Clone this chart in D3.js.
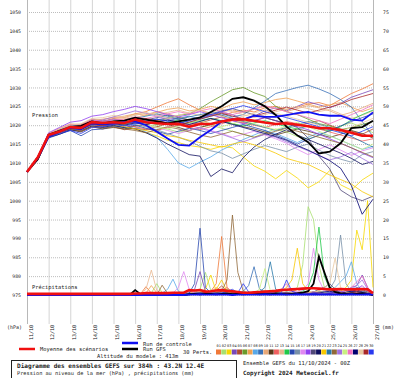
<!DOCTYPE html>
<html>
<head>
<meta charset="utf-8">
<script src="https://cdn.jsdelivr.net/npm/d3@7"></script>
<style>
  body { margin: 0; background: #fff; }
  text { font-family: "DejaVu Sans Mono", monospace; fill: #222; }
</style>
</head>
<body>
<div id="chart"></div>
<script>
// dates on the bottom axis (one per day, 00Z)
const dateLabels = ["11/10","12/10","13/10","14/10","15/10","16/10","17/10","18/10","19/10",
  "20/10","21/10","22/10","23/10","24/10","25/10","26/10","27/10"];
const pressureTicks = [975,980,985,990,995,1000,1005,1010,1015,1020,1025,1030,1035,1040,1045,1050];
const precipTicks = [0,5,10,15,20,25,30,35,40,45,50,55,60,65,70,75];

// member colours 01..30
const memberColors = ["#f07838","#a8e070","#f8d800","#7848b8","#b04a30","#6a9a2a","#f0a050","#58a8e8",
  "#3870b8","#e8a878","#5a3818","#f06060","#e8b890","#20c848","#2848b0","#7890a8","#e088f0","#9040f0",
  "#504878","#101060","#f8c800","#2878a8","#906838","#a070e0","#c8f080","#f070c0","#000070","#e8c8a0",
  "#a82828","#2838f0"];

// sea level pressure (hPa), every 12h from 0 to 384h
const meanPressure = [1007.6,1011.5,1017.4,1018.3,1019.5,1019.3,1020.8,1020.6,1020.8,1020.6,1021.5,1020.8,1020.5,1020.3,1020.4,1019.6,1020.3,1020.3,1021.0,1021.5,1021.6,1021.2,1020.7,1020.3,1020.5,1020.1,1019.7,1019.2,1019.2,1018.7,1018.0,1017.2,1017.2];
const controlPressure = [1007.6,1011.3,1017.0,1018.3,1019.3,1019.0,1020.5,1020.3,1020.5,1020.8,1021.0,1020.0,1018.3,1016.5,1014.8,1014.6,1016.8,1018.7,1021.0,1021.6,1021.5,1022.5,1022.2,1022.2,1022.7,1023.2,1023.5,1022.8,1022.5,1022.5,1021.5,1021.2,1023.4];
const gfsPressure = [1007.6,1011.0,1017.5,1018.5,1019.5,1019.8,1021.0,1020.5,1021.0,1021.2,1022.0,1021.5,1021.0,1020.5,1021.0,1021.5,1022.0,1023.5,1025.0,1027.0,1027.4,1026.5,1025.0,1022.7,1019.6,1017.3,1015.5,1012.5,1013.0,1015.2,1019.2,1019.5,1021.2];
const memberPressure = [
  [1007.6,1011.8,1017.8,1018.9,1020.0,1019.6,1021.4,1021.0,1021.8,1022.0,1023.0,1023.6,1024.8,1026.0,1027.0,1025.4,1024.0,1023.0,1022.5,1023.4,1024.0,1023.5,1024.6,1025.0,1024.2,1024.8,1025.6,1026.0,1025.2,1026.8,1028.4,1029.6,1031.0],
  [1007.6,1011.2,1017.0,1018.6,1019.2,1018.8,1020.4,1020.0,1020.6,1021.2,1021.0,1020.2,1019.8,1019.0,1018.2,1018.6,1019.4,1020.0,1019.2,1018.4,1017.6,1016.8,1018.0,1019.0,1018.2,1017.0,1016.4,1017.2,1018.6,1019.8,1020.6,1019.4,1018.0],
  [1007.6,1011.6,1017.6,1019.0,1020.2,1019.8,1020.6,1020.2,1020.0,1019.4,1019.0,1018.0,1017.2,1016.0,1015.4,1014.6,1014.2,1013.6,1014.4,1014.0,1011.6,1009.2,1007.8,1005.8,1008.0,1006.0,1003.4,1005.0,1008.0,1004.2,1002.8,1005.5,1007.3],
  [1007.6,1011.4,1017.2,1018.0,1019.8,1020.0,1021.6,1021.2,1021.0,1020.4,1021.2,1020.6,1021.4,1022.0,1021.6,1020.8,1021.8,1022.6,1023.4,1022.8,1021.6,1022.4,1023.8,1024.6,1023.8,1025.0,1026.2,1025.4,1024.6,1025.8,1027.4,1028.4,1029.4],
  [1007.6,1011.0,1016.8,1018.2,1019.0,1018.6,1019.8,1019.4,1019.6,1018.8,1019.2,1018.8,1019.6,1020.4,1021.0,1020.2,1020.6,1021.4,1022.2,1021.6,1020.8,1021.2,1022.0,1021.2,1020.4,1019.8,1020.6,1021.2,1020.0,1019.0,1018.4,1017.6,1019.0],
  [1007.6,1011.4,1017.4,1018.4,1019.6,1019.4,1020.6,1020.4,1020.6,1020.2,1021.0,1020.6,1021.0,1021.8,1022.6,1023.0,1024.4,1026.2,1027.8,1029.4,1030.0,1028.6,1027.6,1025.0,1023.6,1022.8,1021.6,1020.4,1019.8,1018.8,1019.4,1020.2,1021.0],
  [1007.6,1011.6,1017.6,1018.8,1019.8,1020.2,1021.2,1021.6,1022.0,1022.4,1023.0,1022.6,1023.4,1024.2,1024.6,1023.8,1024.2,1025.0,1024.4,1025.6,1026.2,1025.4,1026.0,1026.8,1027.2,1026.4,1025.6,1024.8,1025.4,1026.0,1024.8,1023.6,1024.6],
  [1007.6,1011.2,1016.8,1018.0,1019.2,1019.0,1020.0,1019.6,1019.8,1019.2,1019.6,1018.2,1016.8,1013.6,1010.0,1008.6,1010.2,1011.6,1013.4,1014.8,1016.2,1017.4,1018.6,1017.8,1016.6,1015.4,1016.8,1018.0,1017.2,1016.0,1014.8,1013.6,1014.4],
  [1007.6,1011.4,1017.2,1018.6,1019.4,1019.0,1020.6,1020.2,1020.8,1020.4,1021.4,1021.0,1021.6,1021.2,1021.8,1022.4,1021.6,1022.4,1023.0,1022.2,1022.8,1024.6,1026.4,1028.4,1029.2,1030.0,1030.6,1029.6,1028.4,1026.8,1024.8,1021.0,1017.0],
  [1007.6,1011.8,1017.6,1018.6,1019.6,1019.6,1020.8,1020.8,1021.2,1021.6,1022.0,1022.8,1023.6,1023.0,1022.2,1021.4,1022.0,1022.8,1023.6,1024.0,1023.4,1024.2,1025.0,1024.4,1023.6,1024.4,1025.2,1024.6,1023.8,1022.6,1023.4,1024.6,1025.8],
  [1007.6,1011.0,1017.0,1018.0,1018.8,1018.2,1019.6,1019.0,1019.4,1019.0,1019.8,1020.2,1020.8,1020.2,1019.4,1018.6,1019.4,1020.2,1021.0,1020.4,1019.6,1019.0,1018.2,1017.4,1018.2,1019.0,1018.4,1017.6,1016.8,1017.6,1018.6,1017.8,1016.6],
  [1007.6,1011.6,1017.4,1018.2,1019.4,1019.2,1020.2,1019.8,1020.4,1020.0,1019.6,1019.0,1018.6,1019.4,1020.0,1019.4,1018.8,1019.6,1020.4,1021.2,1020.6,1020.0,1019.4,1020.2,1021.0,1020.4,1019.8,1019.0,1018.2,1017.4,1016.6,1015.8,1016.4],
  [1007.6,1011.4,1017.8,1019.2,1020.4,1020.2,1021.6,1021.4,1022.2,1021.8,1022.6,1023.2,1022.8,1023.4,1024.0,1023.2,1022.6,1023.4,1024.2,1023.6,1022.8,1022.0,1022.8,1023.6,1024.2,1025.0,1024.4,1023.6,1024.2,1023.0,1021.8,1022.6,1023.8],
  [1007.6,1011.2,1017.2,1018.4,1019.6,1019.2,1020.4,1020.2,1020.6,1020.8,1021.2,1020.8,1020.2,1020.8,1021.4,1020.6,1021.2,1021.8,1021.2,1020.4,1019.8,1020.6,1021.2,1020.4,1019.6,1019.0,1019.8,1019.2,1018.4,1019.6,1021.4,1022.8,1024.0],
  [1007.6,1011.0,1016.6,1017.6,1018.6,1017.2,1018.8,1019.0,1019.8,1019.4,1020.0,1019.2,1018.4,1017.6,1018.4,1019.2,1018.6,1017.8,1018.6,1019.4,1020.2,1019.4,1018.6,1017.4,1016.2,1015.0,1016.2,1017.4,1018.6,1019.8,1021.0,1022.0,1023.0],
  [1007.6,1011.4,1017.0,1018.2,1019.0,1018.8,1020.2,1020.6,1021.0,1020.6,1020.2,1019.6,1018.8,1017.8,1016.8,1015.8,1014.4,1013.2,1012.6,1011.2,1012.4,1013.6,1014.6,1013.8,1013.0,1014.2,1015.0,1013.4,1012.0,1011.0,1010.2,1012.2,1013.0],
  [1007.6,1011.6,1017.4,1018.6,1019.8,1019.6,1021.0,1020.8,1021.4,1021.0,1020.6,1020.0,1019.4,1018.6,1017.8,1018.6,1019.4,1018.6,1017.8,1016.8,1017.6,1018.4,1017.4,1016.4,1015.2,1013.6,1012.2,1013.6,1014.8,1013.4,1012.0,1013.2,1014.0],
  [1007.6,1011.8,1018.0,1019.4,1020.8,1021.2,1022.4,1022.8,1023.6,1024.2,1025.0,1024.4,1023.6,1022.8,1022.2,1022.8,1023.6,1022.8,1022.0,1021.2,1020.4,1021.2,1022.0,1021.2,1020.4,1019.6,1018.8,1017.6,1016.4,1015.2,1014.0,1012.6,1011.4],
  [1007.6,1011.2,1017.0,1018.2,1019.2,1018.8,1020.2,1020.0,1020.6,1020.2,1020.8,1021.4,1022.0,1022.6,1022.0,1021.4,1022.2,1023.0,1023.8,1024.4,1023.6,1022.8,1022.0,1021.2,1020.4,1019.4,1016.6,1011.8,1008.4,1002.8,1001.0,1000.0,1001.2],
  [1007.6,1011.0,1016.8,1017.6,1018.8,1018.4,1019.8,1019.4,1020.0,1019.4,1019.0,1018.0,1016.6,1015.0,1013.6,1012.2,1011.8,1006.4,1008.4,1007.4,1011.4,1014.2,1016.2,1017.6,1018.8,1017.4,1016.2,1015.0,1013.8,1012.6,1011.2,1009.6,1010.4],
  [1007.6,1011.4,1017.2,1018.4,1019.4,1019.6,1020.8,1020.4,1020.2,1019.6,1019.0,1018.6,1018.0,1017.2,1016.8,1016.0,1015.4,1014.8,1014.2,1015.0,1015.6,1014.8,1013.8,1012.6,1011.2,1010.4,1009.6,1008.2,1006.8,1005.6,1004.4,1002.4,1001.0],
  [1007.6,1011.6,1017.6,1018.8,1020.0,1019.8,1021.2,1021.0,1021.6,1021.2,1021.8,1022.4,1023.0,1022.4,1021.6,1022.2,1022.8,1023.4,1022.6,1021.8,1021.0,1020.2,1019.4,1018.6,1019.4,1020.2,1021.0,1020.2,1019.4,1018.2,1017.0,1015.6,1014.2],
  [1007.6,1011.2,1017.0,1018.0,1019.0,1018.4,1019.6,1019.2,1019.6,1019.0,1018.6,1018.0,1018.8,1019.6,1019.0,1018.2,1017.4,1016.8,1017.6,1018.4,1017.6,1016.8,1017.6,1018.4,1019.2,1018.4,1017.6,1016.8,1016.0,1015.2,1014.0,1012.8,1011.6],
  [1007.6,1011.6,1017.6,1018.6,1019.6,1019.6,1021.0,1021.4,1022.2,1023.0,1023.8,1023.2,1022.4,1021.6,1020.8,1020.0,1019.2,1018.4,1017.6,1016.6,1015.6,1016.6,1017.6,1016.8,1015.6,1014.4,1013.2,1012.0,1010.8,1011.6,1012.8,1011.2,1009.6],
  [1007.6,1011.4,1017.4,1018.4,1019.4,1019.2,1020.4,1020.0,1020.4,1020.0,1020.6,1020.0,1019.4,1019.0,1019.8,1020.6,1021.2,1020.4,1019.6,1020.4,1021.2,1020.4,1019.6,1018.8,1019.8,1020.8,1019.6,1018.4,1017.2,1016.0,1014.8,1013.6,1015.0],
  [1007.6,1011.8,1017.8,1019.0,1020.2,1020.0,1021.4,1021.0,1021.6,1021.4,1022.2,1021.8,1022.4,1023.0,1023.6,1023.0,1023.8,1024.4,1023.6,1022.8,1023.6,1024.4,1025.2,1024.4,1023.6,1022.8,1022.0,1021.2,1020.4,1021.6,1022.8,1024.0,1025.4],
  [1007.6,1011.2,1017.2,1018.2,1019.4,1019.0,1020.4,1020.0,1020.4,1020.0,1020.6,1020.2,1020.8,1021.4,1020.8,1020.2,1021.0,1021.8,1021.0,1020.2,1019.4,1018.6,1017.8,1017.0,1016.0,1014.6,1013.4,1012.0,1010.6,1008.6,1004.0,996.4,1000.4],
  [1007.6,1011.6,1017.6,1019.0,1020.0,1020.4,1021.8,1022.0,1022.6,1022.2,1022.8,1023.4,1022.6,1021.8,1022.6,1023.4,1024.0,1023.2,1022.4,1021.6,1022.4,1023.2,1024.0,1023.2,1022.4,1021.6,1020.8,1020.0,1019.2,1018.4,1019.4,1020.6,1021.8],
  [1007.6,1011.4,1017.2,1018.4,1019.4,1019.0,1020.2,1019.8,1020.2,1020.6,1021.2,1021.8,1021.2,1020.6,1020.0,1020.8,1021.6,1022.4,1023.2,1022.4,1021.6,1022.4,1023.2,1024.0,1024.8,1024.0,1023.2,1024.0,1024.8,1025.6,1026.8,1027.6,1028.4],
  [1007.6,1011.0,1016.8,1017.8,1018.6,1017.8,1019.4,1019.6,1020.2,1019.8,1020.4,1021.0,1021.6,1021.0,1020.4,1021.2,1022.0,1022.8,1023.6,1024.4,1025.2,1024.4,1023.6,1022.8,1022.0,1021.2,1020.4,1019.6,1018.8,1018.0,1017.2,1018.4,1019.6]
];

// precipitation (mm), every 6h from 0 to 384h
const meanPrecip = [.3,.3,.3,.3,.3,.3,.3,.3,.3,.3,.3,.3,.3,.3,.3,.3,.3,.3,.3,.3,
  .4,.4,.5,.5,.5,.5,.5,.6,.6,.6,1.3,1.2,1.3,.9,1,1.2,1.3,1.1,1,.8,
  .6,.6,.7,.8,.9,1,1.1,1.3,1.4,1.5,1.6,1.7,1.8,1.8,1.7,1.6,1.5,1.5,1.6,1.5,
  1.5,1.5,1.6,1.5,.5];
const controlPrecip = [0,0,0,0,0,0,0,0,0,0,0,0,0,0,0,0,0,0,0,0,
  0,0,0,0,0,0,0,0,0,0,.1,.1,.2,.1,.1,.2,.1,.1,0,.1,
  .1,.2,.1,.1,.2,.1,.1,.2,.1,.1,.2,.1,.1,.2,.1,.1,.2,.1,.1,.1,
  .2,.1,.1,.2,.1];
const gfsPrecip = [0,0,0,0,0,0,0,0,0,0,0,0,0,0,0,0,0,0,0,0,
  1.3,.2,0,0,0,0,0,0,0,0,.2,.3,.2,.4,.3,.2,.3,.4,.2,.3,
  .2,.3,.4,.2,.3,.2,.4,.3,.2,.3,.4,.6,1,3,10.2,6,2,.8,.4,.3,
  .4,.3,.5,.3,0];
const memberPrecip = [
  [0,0,0,0,0,0,0,0,0,0,0,0,0,0,0,0,0,0,0,0, 0,.3,2.2,.5,0,0,.2,0,0,.3, .5,.8,.4,.6,1,3,15.5,2,.5,.3, .2,.4,.6,.3,.5,1,.4,.2,.6,.8, 1.5,.6,.4,.8,1.2,.5,.3,.6,.9,.4, 1,.6,.4,.8,0],
  [0,0,0,0,0,0,0,0,0,0,0,0,0,0,0,0,0,0,0,0, 0,0,0,.5,3,.6,0,0,.2,.3, .4,.6,1.5,6,1.2,.4,.3,.6,.4,.2, .3,.5,.4,.6,1.2,.5,.3,.4,.6,.9, 2,8,23.4,20,8,2,.8,.5,.4,.6, .5,.8,.6,.4,0],
  [0,0,0,0,0,0,0,0,0,0,0,0,0,0,0,0,0,0,0,0, 0,0,0,0,0,.3,0,0,0,.2, .3,.5,.8,1.5,5.3,1,.4,.2,.3,.4, .5,.3,.2,.4,.6,.3,.2,.5,.8,.4, .6,.4,.3,.6,.8,.5,.7,.4,1,2, 4,17.2,12,25,2],
  [0,0,0,0,0,0,0,0,0,0,0,0,0,0,0,0,0,0,0,0, 0,0,0,0,.2,0,0,.3,0,.4, .6,1.5,6.2,1,.4,.3,.5,.2,.3,.6, .4,.3,.5,.2,.4,.6,.3,.2,.4,.5, .3,.6,.4,.8,.5,.3,.6,1,.8,1.2, 2,2.5,5.3,2,.5],
  [0,0,0,0,0,0,0,0,0,0,0,0,0,0,0,0,0,0,0,0, 0,0,.2,0,0,.3,0,0,0,0, .3,.2,.5,.4,.8,1.2,2.4,1,.3,.2, .5,.3,.2,.4,.3,.2,.6,.4,.3,.5, .4,.3,.6,.8,.5,.3,.4,.6,.5,.3, .6,.8,1.2,.6,0],
  [0,0,0,0,0,0,0,0,0,0,0,0,0,0,0,0,0,0,0,0, 0,0,0,0,0,0,0,0,0,0, .2,.4,.3,.5,.8,.4,.6,1.6,.5,.3, .2,.3,.5,.4,.6,.3,.4,.2,.5,.3, .4,.6,.8,.5,.3,.6,.4,.5,.3,.4, .5,.3,.6,.4,0],
  [0,0,0,0,0,0,0,0,0,0,0,0,0,0,0,0,0,0,0,0, 0,0,.5,2.5,.6,0,0,0,0,0, .3,.5,.4,.3,.6,2,1,.5,.4,.3, .3,.5,.4,.2,.3,.5,.7,.4,.3,.6, .8,.5,.4,.6,.3,.5,.8,1.2,.6,.4, .6,.4,.8,.5,0],
  [0,0,0,0,0,0,0,0,0,0,0,0,0,0,0,0,0,0,0,0, 0,0,0,0,0,.5,1.5,4.2,1,.2, .3,.4,.6,.5,.3,.6,.8,.4,.5,.3, .6,.8,.5,.4,.3,.6,.4,.5,.3,.4, .5,.3,.6,.4,.5,.8,1.2,2,3.5,5, 8.8,3,1,.5,0],
  [0,0,0,0,0,0,0,0,0,0,0,0,0,0,0,0,0,0,0,0, 0,0,0,0,0,0,0,0,0,0, .2,.4,.6,.3,.5,.4,.6,.3,.4,.5, 1,2.5,7.5,1.6,.8,.5,.6,.4,.8,.5, .4,.6,.3,.5,.8,.4,.3,.6,.5,.7, .4,.6,.3,.5,0],
  [0,0,0,0,0,0,0,0,0,0,0,0,0,0,0,0,0,0,0,0, 0,0,0,0,0,0,0,.3,0,0, .2,.3,.5,.4,.3,.8,1.5,.6,.3,.2, .3,.2,.4,.3,.5,.4,.2,.3,.6,.4, .5,.4,.6,.3,.5,.7,.9,.5,.3,.4, .6,.5,.4,.3,0],
  [0,0,0,0,0,0,0,0,0,0,0,0,0,0,0,0,0,0,0,0, 0,0,0,0,0,0,0,0,0,0, .3,.2,.4,.3,.5,.3,.4,.2,.3,.5, .4,.3,.2,.5,.3,.4,.6,.3,.2,.4, .3,.5,.4,.6,.3,.4,.5,.3,.6,.4, .5,.3,.4,.2,0],
  [0,0,0,0,0,0,0,0,0,0,0,0,0,0,0,0,0,0,0,0, 0,0,0,0,0,0,0,0,0,0, .3,.5,.4,.6,.3,.5,1,2,.6,.3, .2,.4,.3,.5,.4,.3,.2,.4,.6,.3, .5,.4,.3,.6,.5,.3,.4,.5,.3,.6, .4,.5,.3,.4,0],
  [0,0,0,0,0,0,0,0,0,0,0,0,0,0,0,0,0,0,0,0, 0,.4,1.5,6.6,1.2,.3,0,0,0,0, .2,.3,.4,.5,.3,.4,.6,.3,.5,.4, .3,.5,.4,.3,.6,.4,.5,.3,.4,.6, .5,.4,.6,.8,.5,.4,1,2,1,.4, .5,.3,.6,.4,0],
  [0,0,0,0,0,0,0,0,0,0,0,0,0,0,0,0,0,0,0,0, 0,0,0,0,0,0,0,0,0,0, .2,.3,.5,.4,.6,.3,.4,.5,.3,.2, .4,.3,.5,.6,.4,.3,.5,.4,.6,.8, .6,1,2,6,18,5,1.5,.6,.4,.5, .6,.4,.5,.3,0],
  [0,0,0,0,0,0,0,0,0,0,0,0,0,0,0,0,0,0,0,0, 0,0,0,0,0,0,0,0,0,0, .5,3,17.7,2,.6,.4,.3,.5,.4,.3, .4,.3,.5,.4,.3,.6,.4,.3,.5,.4, .3,.5,.4,.6,.3,.5,.4,.3,.5,.4, .6,.4,.3,.5,0],
  [0,0,0,0,0,0,0,0,0,0,0,0,0,0,0,0,0,0,0,0, 1.3,.2,0,0,0,0,0,0,0,0, .3,.4,.2,.5,.3,.4,.6,.3,.2,.4, .3,.5,.4,.3,.5,.4,.3,.6,.4,.5, .4,.6,.5,.3,.8,1,1.5,4,15.9,3, 1,.5,.4,.3,0],
  [0,0,0,0,0,0,0,0,0,0,0,0,0,0,0,0,0,0,0,0, 0,0,0,0,0,0,0,.5,2,6.2, 1.5,.4,.3,.6,.5,.4,.3,.5,.4,.3, .5,.4,.3,.6,.4,.5,.3,.4,.5,1, .8,1.2,3,12.4,4,1,.6,.5,.4,.6, .5,.8,.6,.4,0],
  [0,0,0,0,0,0,0,0,0,0,0,0,0,0,0,0,0,0,0,0, 0,0,0,0,0,0,0,0,0,0, .3,.5,.4,.3,.6,.4,.5,.3,.4,.5, .4,.3,.5,.6,.4,.3,.5,.4,.6,.5, .4,.6,.5,.8,.6,.5,.8,1.2,1,.6, .8,1.5,2.5,1,0],
  [0,0,0,0,0,0,0,0,0,0,0,0,0,0,0,0,0,0,0,0, 0,0,0,0,0,0,0,0,0,0, .2,.3,.4,.3,.5,.4,.3,.2,.4,.3, .5,.4,.3,.5,.4,.6,.5,.4,.3,.5, .6,.5,.4,.8,1.5,2,3,1.5,.6,.8, 1.2,2,1.5,.8,0],
  [0,0,0,0,0,0,0,0,0,0,0,0,0,0,0,0,0,0,0,0, 0,0,0,0,0,0,0,0,0,0, .3,.4,.6,.4,.3,.5,.4,.3,.6,.4, .3,.5,.4,.3,.6,.4,.5,.3,.4,.6, .5,.4,.6,.5,.3,.4,.6,.5,.4,.6, .8,1,.6,.4,0],
  [0,0,0,0,0,0,0,0,0,0,0,0,0,0,0,0,0,0,0,0, 0,0,0,0,0,0,0,0,0,0, .2,.3,.4,.5,.3,1.5,4,1,.4,.3, .3,.5,.4,.3,.6,.4,.5,1,2,4, 12.4,3,1,.5,.6,.4,.5,.3,.6,.4, .5,.3,.4,.6,0],
  [0,0,0,0,0,0,0,0,0,0,0,0,0,0,0,0,0,0,0,0, 0,0,0,0,0,0,0,0,0,0, .3,.4,.3,.5,.4,.6,.3,.4,.5,.3, .4,.6,.5,.8,2,8.8,1.5,.5,.4,.6, .5,.4,.6,.5,.3,.4,.6,.5,.4,.3, .5,.4,.6,.3,0],
  [0,0,0,0,0,0,0,0,0,0,0,0,0,0,0,0,0,0,0,0, 0,0,0,0,0,2.6,.4,0,0,0, .3,.4,.5,.3,.4,.6,1,4,21.2,6, 1,.5,.4,.3,.5,.4,.3,.6,.4,.5, .4,.3,.5,.6,.4,.5,.3,.4,.6,.5, .4,.6,.5,.3,0],
  [0,0,0,0,0,0,0,0,0,0,0,0,0,0,0,0,0,0,0,0, 0,0,0,0,0,0,0,0,0,0, .3,.5,.4,.6,.3,.4,.5,.3,.4,.6, .5,.3,.4,.6,.5,.3,.4,.5,.3,.6, .4,.5,.6,.8,.4,.5,.3,.6,.8,1, 1.5,2.5,4,1.5,0],
  [0,0,0,0,0,0,0,0,0,0,0,0,0,0,0,0,0,0,0,0, 0,0,0,0,0,0,0,0,0,0, .3,.4,.5,.3,.6,.4,.5,.3,.4,.6, .5,.4,.6,1.5,7,1.2,.5,.4,.3,.6, .5,.6,.8,.5,.4,.6,.5,.3,.4,.5, .6,.4,.5,.3,0],
  [0,0,0,0,0,0,0,0,0,0,0,0,0,0,0,0,0,0,0,0, 0,0,0,0,0,0,0,0,0,0, .2,.3,.4,.3,.5,.4,.3,.5,.4,.3, .4,.5,.3,.6,.4,.5,.8,1.5,3,.8, .5,.4,.6,.5,.4,.3,.5,.6,.4,1, 2,3.5,5,2,0],
  [0,0,0,0,0,0,0,0,0,0,0,0,0,0,0,0,0,0,0,0, 0,0,0,0,0,0,0,0,0,0, .3,.2,.4,.5,.3,.4,.6,.4,.3,.5, .4,.3,.5,.4,.6,.3,.5,.4,.6,.5, .4,.6,.5,.3,.5,.8,1,.6,.4,.8, 1,1.4,.8,.6,0],
  [0,0,0,0,0,0,0,0,0,0,0,0,0,0,0,0,0,0,0,0, 0,0,0,0,0,0,0,0,0,0, .3,.4,.3,.5,.4,.3,.6,.4,.5,.3, .4,.3,.5,.4,.6,.5,.3,.4,.5,.6, .4,.5,.6,.8,1.2,2,3,9.8,2,.8, .6,.5,.4,.6,0],
  [0,0,0,0,0,0,0,0,0,0,0,0,0,0,0,0,0,0,0,0, 0,0,0,0,0,0,0,0,0,0, .2,.3,.5,.4,.3,.5,.4,.3,.6,.4, .3,.5,.4,.3,.5,.6,.4,.3,.5,.4, .6,.5,.4,.6,.5,.3,.4,.6,.5,.4, .6,.8,.5,.4,0],
  [0,0,0,0,0,0,0,0,0,0,0,0,0,0,0,0,0,0,0,0, 0,0,0,0,0,0,0,0,0,0, .3,.4,.5,.3,.6,.4,.5,1,1.5,.6, 3,.8,.4,.5,.3,.6,.4,.5,4,1, .5,.4,.3,.6,.5,.4,.6,.5,.4,.3, .5,.4,.6,.3,0]
];

const W = 400, H = 378;
const svg = d3.select("#chart").append("svg")
  .attr("width", W).attr("height", H);

// hours -> px, shared vertical scale for hPa (left) and mm (right)
const x = d3.scaleLinear().domain([0, 384]).range([27, 373]);
const y = d3.scaleLinear().domain([975, 1050]).range([295, 12]);
const yr = d3.scaleLinear().domain([0, 75]).range([295, 12]);

// vertical day grid
svg.append("g").selectAll("line")
  .data(d3.range(0, 385, 24))
  .enter().append("line")
    .attr("x1", d => x(d) + 0.5).attr("x2", d => x(d) + 0.5)
    .attr("y1", 0).attr("y2", 324)
    .attr("stroke", (d, i) => (i == 0 || i == 16) ? "#b8b8b8" : "#d4d4d4")
    .attr("stroke-width", 1);

// left axis + dotted horizontal grid
const yAxis = svg.append("g")
  .attr("transform", "translate(27,0)")
  .call(d3.axisLeft(y).tickValues(pressureTicks).tickSize(-346).tickPadding(6).tickFormat(d3.format("d")));
yAxis.select(".domain").remove();
yAxis.selectAll("line").attr("stroke", "#bdbdbd").attr("stroke-dasharray", "1,1");
yAxis.attr("font-family", "DejaVu Sans Mono").attr("font-size", "4.8px");

// right axis (mm)
const yrAxis = svg.append("g")
  .attr("transform", "translate(373,0)")
  .call(d3.axisRight(yr).tickValues(precipTicks).tickSize(0).tickPadding(10));
yrAxis.select(".domain").remove();
yrAxis.attr("font-family", "DejaVu Sans Mono").attr("font-size", "4.8px");

svg.selectAll(".tick text").attr("fill", "#222");

// date labels, written upwards
svg.append("g").selectAll("text")
  .data(dateLabels)
  .enter().append("text")
    .attr("transform", (d, i) => "translate(" + (x(i * 24) + 5.5) + ",325) rotate(-90)")
    .attr("text-anchor", "end")
    .attr("font-size", "5px")
    .text(d => d);

svg.append("text").attr("x", 7).attr("y", 329).attr("font-size", "5px").text("(hPa)");
svg.append("text").attr("x", 382).attr("y", 329).attr("font-size", "5px").text("(mm)");

svg.append("text").attr("x", 32).attr("y", 117).attr("font-size", "5.4px").text("Pression");
svg.append("text").attr("x", 32).attr("y", 289).attr("font-size", "5.4px").text("Précipitations");

// line generators
const pLine = d3.line().x((d, i) => x(i * 12)).y(d => y(d));
const rLine = d3.line().x((d, i) => x(i * 6)).y(d => yr(d));

// members: precipitation then pressure
svg.append("g").selectAll("path")
  .data(memberPrecip)
  .enter().append("path")
    .attr("d", rLine)
    .attr("fill", "none")
    .attr("stroke", (d, i) => memberColors[i])
    .attr("stroke-width", 0.8);

svg.append("g").selectAll("path")
  .data(memberPressure)
  .enter().append("path")
    .attr("d", pLine)
    .attr("fill", "none")
    .attr("stroke", (d, i) => memberColors[i])
    .attr("stroke-width", 0.8);

// control, GFS and mean drawn thick on top
const main = [
  {p: gfsPressure, r: gfsPrecip, c: "#000", w: 1.8},
  {p: controlPressure, r: controlPrecip, c: "#1010f0", w: 1.8},
  {p: meanPressure, r: meanPrecip, c: "#f01010", w: 2.6}
];
main.forEach(function(s) {
  svg.append("path").attr("d", rLine(s.r)).attr("fill", "none")
    .attr("stroke", s.c).attr("stroke-width", s.w);
  svg.append("path").attr("d", pLine(s.p)).attr("fill", "none")
    .attr("stroke", s.c).attr("stroke-width", s.w);
});

// legend
svg.append("line").attr("x1", 19).attr("x2", 35).attr("y1", 349).attr("y2", 349)
  .attr("stroke", "#f01010").attr("stroke-width", 2.5);
svg.append("text").attr("x", 40).attr("y", 351).attr("font-size", "5.4px").text("Moyenne des scénarios");
svg.append("line").attr("x1", 122).attr("x2", 138).attr("y1", 343).attr("y2", 343)
  .attr("stroke", "#1010f0").attr("stroke-width", 2.5);
svg.append("text").attr("x", 143).attr("y", 345.5).attr("font-size", "5.4px").text("Run de controle");
svg.append("line").attr("x1", 122).attr("x2", 138).attr("y1", 349).attr("y2", 349)
  .attr("stroke", "#000").attr("stroke-width", 2.5);
svg.append("text").attr("x", 143).attr("y", 351).attr("font-size", "5.4px").text("Run GFS");
svg.append("text").attr("x", 97).attr("y", 358).attr("font-size", "5.4px").text("Altitude du modele : 413m");
svg.append("text").attr("x", 183).attr("y", 354).attr("font-size", "5.4px").text("30 Perts.");

// member colour boxes
const bx = d3.scaleBand().domain(d3.range(30)).range([216, 374]);
const legendG = svg.append("g");
legendG.selectAll("rect")
  .data(memberColors)
  .enter().append("rect")
    .attr("x", (d, i) => bx(i)).attr("y", 349.5)
    .attr("width", bx.bandwidth() - 0.3).attr("height", 5)
    .attr("fill", d => d);
legendG.selectAll("text")
  .data(memberColors)
  .enter().append("text")
    .attr("x", (d, i) => bx(i) + bx.bandwidth() / 2).attr("y", 347)
    .attr("text-anchor", "middle").attr("font-size", "3.6px")
    .text((d, i) => d3.format("02d")(i + 1));

// title box
svg.append("rect").attr("x", 11.5).attr("y", 360.5).attr("width", 225).attr("height", 20)
  .attr("fill", "none").attr("stroke", "#222").attr("stroke-width", 1);
svg.append("text").attr("x", 17).attr("y", 368).attr("font-size", "6.1px").attr("font-weight", "bold")
  .text("Diagramme des ensembles GEFS sur 384h : 43.2N 12.4E");
svg.append("text").attr("x", 17).attr("y", 375).attr("font-size", "5.25px")
  .text("Pression au niveau de la mer (hPa) , précipitations (mm)");
svg.append("text").attr("x", 243).attr("y", 365).attr("font-size", "5.4px")
  .text("Ensemble GEFS du 11/10/2024 - 00Z");
svg.append("text").attr("x", 243).attr("y", 375).attr("font-size", "5.9px").attr("font-weight", "bold")
  .text("Copyright 2024 Meteociel.fr");
</script>
</body>
</html>
